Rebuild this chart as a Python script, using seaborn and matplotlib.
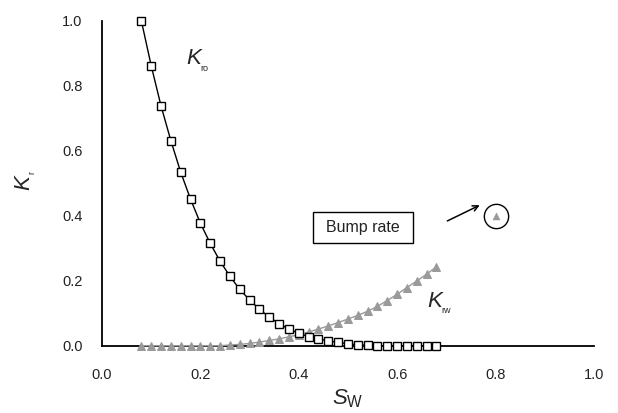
import numpy as np
import pandas as pd
import matplotlib
matplotlib.use("Agg")
import matplotlib.pyplot as plt
import seaborn as sns
from matplotlib.patches import Rectangle

sw = [0.08, 0.10, 0.12, 0.14, 0.16, 0.18, 0.20, 0.22, 0.24, 0.26, 0.28,
      0.30, 0.32, 0.34, 0.36, 0.38, 0.40, 0.42, 0.44, 0.46, 0.48, 0.50,
      0.52, 0.54, 0.56, 0.58, 0.60, 0.62, 0.64, 0.66, 0.68]
kro = [1.000, 0.862, 0.738, 0.631, 0.534, 0.451, 0.377, 0.315, 0.260, 0.214,
       0.173, 0.141, 0.112, 0.088, 0.068, 0.051, 0.038, 0.028, 0.021, 0.015,
       0.010, 0.006, 0.003, 0.001, 0.0, 0.0, 0.0, 0.0, 0.0, 0.0, 0.0]
krw = [0.0, 0.0, 0.0, 0.0, 0.0, 0.0, 0.0, 0.0, 0.0, 0.002, 0.004,
       0.007, 0.011, 0.016, 0.021, 0.027, 0.034, 0.042, 0.051, 0.061, 0.071,
       0.082, 0.093, 0.106, 0.121, 0.139, 0.158, 0.179, 0.199, 0.220, 0.243]
bump_x = [0.80]
bump_y = [0.40]
xticks = [0.0, 0.2, 0.4, 0.6, 0.8, 1.0]
yticks = [0.0, 0.2, 0.4, 0.6, 0.8, 1.0]

sns.set_style("white")
plt.rcParams['font.family'] = ['Liberation Sans', 'DejaVu Sans']
plt.rcParams['mathtext.fontset'] = 'custom'
plt.rcParams['mathtext.rm'] = 'Liberation Sans'
plt.rcParams['mathtext.it'] = 'Liberation Sans:italic'

df = pd.DataFrame({"sw": sw, "kro": kro, "krw": krw})

W, H = 618, 413
fig = plt.figure(figsize=(W / 100, H / 100), dpi=100)
ax = fig.add_axes([0.165, 0.163, 0.796, 0.787])

gray = "#9a9a9a"
sns.lineplot(data=df, x="sw", y="krw", ax=ax, color=gray, linewidth=1.0,
             marker="^", markersize=6, markerfacecolor=gray,
             markeredgecolor=gray, clip_on=False, zorder=3)
sns.lineplot(data=df, x="sw", y="kro", ax=ax, color="black", linewidth=1.0,
             marker="s", markersize=5.5, markerfacecolor="white",
             markeredgecolor="black", markeredgewidth=1.0, clip_on=False,
             zorder=4)
sns.scatterplot(x=bump_x, y=bump_y, ax=ax, marker="^", s=25, color=gray,
                edgecolor=gray, zorder=4)
ax.plot(bump_x, bump_y, marker="o", markersize=17.5, markerfacecolor="none",
        markeredgecolor="black", markeredgewidth=1.0, linestyle="none")

ax.add_patch(Rectangle((0.429, 0.316), 0.203, 0.095, fill=False,
                       edgecolor="black", linewidth=1.0, zorder=5))
ax.text(0.5305, 0.3635, "Bump rate", ha="center", va="center", fontsize=11.5,
        color="#222222")
ax.annotate("", xy=(0.773, 0.436), xytext=(0.697, 0.38),
            arrowprops=dict(arrowstyle="->", color="black", lw=1.1))

# curve labels: italic K with tiny subscripts
ax.text(0.171, 0.884, "K", fontsize=16, style="italic", ha="left", va="center")
ax.text(0.200, 0.853, "ro", fontsize=6.5, ha="left", va="center")
ax.text(0.661, 0.136, "K", fontsize=16, style="italic", ha="left", va="center")
ax.text(0.689, 0.108, "rw", fontsize=6.5, ha="left", va="center")

ax.set_xlim(0, 1.0)
ax.set_ylim(0, 1.0)
ax.set_xticks(xticks)
ax.set_yticks(yticks)
ax.set_xticklabels([f"{v:.1f}" for v in xticks])
ax.set_yticklabels([f"{v:.1f}" for v in yticks])
ax.tick_params(axis="both", direction="in", length=5, width=1.2,
               labelsize=10.5, colors="black", labelcolor="#222222")
ax.tick_params(axis="x", pad=16)
ax.tick_params(axis="y", pad=14)
ax.set_xlabel(r"$S_{\mathrm{W}}$", fontsize=16, labelpad=4)
ax.set_ylabel("")

# y-axis label: rotated italic K with tiny r
fig.text(24 / W, 1 - 183 / H, "K", fontsize=16, style="italic", rotation=90,
         ha="center", va="center")
fig.text(31.5 / W, 1 - 172 / H, "r", fontsize=6.5, rotation=90,
         ha="center", va="center")

for s in ["top", "right"]:
    ax.spines[s].set_visible(False)
for s in ["left", "bottom"]:
    ax.spines[s].set_color("black")
    ax.spines[s].set_linewidth(1.3)

fig.savefig("out.png", dpi=100)
